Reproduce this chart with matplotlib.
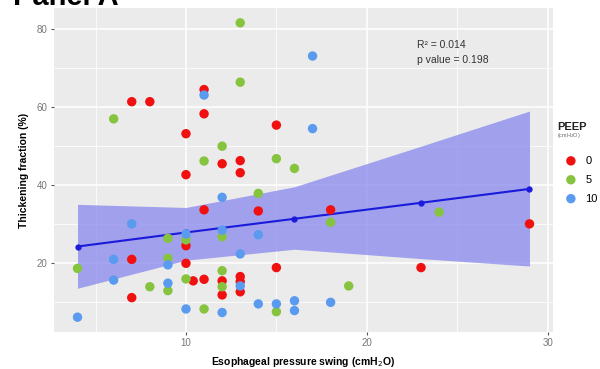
import matplotlib.pyplot as plt
from matplotlib.ticker import MultipleLocator

plt.rcParams['font.family'] = ['Liberation Sans', 'DejaVu Sans']

# PEEP 0 cmH2O
red_x = [7, 8, 11, 11, 15, 10, 12, 13, 13, 10, 11, 14, 18, 10, 10, 7, 7,
         10.4, 11, 12, 12, 13, 13, 13, 15, 23, 29]
red_y = [61.4, 61.4, 64.5, 58.3, 55.4, 53.2, 45.5, 46.3, 43.2, 42.7, 33.7, 33.4, 33.7,
         24.5, 20.0, 21.0, 11.2, 15.5, 15.9, 15.5, 11.9, 16.6, 15.3, 12.7, 18.9, 18.9, 30.1]

# PEEP 5 cmH2O
green_x = [13, 13, 6, 12, 11, 15, 16, 14, 18, 24, 9, 10, 12, 4, 9, 10, 8, 9,
           12, 12, 11, 15, 19]
green_y = [81.6, 66.4, 57.0, 50.0, 46.2, 46.8, 44.3, 37.9, 30.5, 33.1, 26.4, 26.0, 26.8,
           18.7, 21.3, 16.0, 14.0, 13.0, 18.1, 14.0, 8.3, 7.6, 14.2]

# PEEP 10 cmH2O
blue_x = [11, 17, 17, 12, 7, 12, 14, 10, 13, 6, 9, 6, 9, 13, 4, 10, 12, 14,
          15, 16, 16, 18]
blue_y = [63.1, 73.1, 54.5, 36.9, 30.1, 28.5, 27.3, 27.5, 22.4, 21.0, 19.6, 15.7, 14.9,
          14.2, 6.2, 8.3, 7.4, 9.6, 9.6, 10.4, 7.9, 10.0]

# regression line and confidence band
fit_x = [4, 10, 16, 23, 29]
fit_y = [24.3, 27.9, 31.4, 35.5, 39.05]
ci_low = [13.6, 20.8, 23.6, 21.2, 19.3]
ci_high = [35.1, 34.3, 39.6, 50.0, 59.0]

fig = plt.figure(figsize=(6, 3.69), dpi=100)
ax = fig.add_axes([54 / 600, 1 - 332 / 369, 499 / 600, 324 / 369])
ax.set_facecolor('#EBEBEB')

ax.set_xlim(2.7, 30.3)
ax.set_ylim(2.4, 85.4)
ax.xaxis.set_major_locator(MultipleLocator(10))
ax.xaxis.set_minor_locator(MultipleLocator(5))
ax.yaxis.set_major_locator(MultipleLocator(20))
ax.yaxis.set_minor_locator(MultipleLocator(10))
ax.grid(which='major', color='white', lw=1.1)
ax.grid(which='minor', color='white', lw=0.55)
ax.set_axisbelow(True)
for s in ax.spines.values():
    s.set_visible(False)
ax.tick_params(which='major', length=2.5, color='#555555', labelsize=7, labelcolor='#777777', pad=2)
ax.tick_params(which='minor', length=0)

ax.fill_between(fit_x, ci_low, ci_high, color='#8080ee', alpha=0.7, lw=0, zorder=2)
ax.plot(fit_x, fit_y, color='#1a1adb', lw=1.5, marker='o', ms=3.5, zorder=3)

ax.scatter(red_x, red_y, s=46, color='#f01010', edgecolors='none', zorder=4, label='0')
ax.scatter(green_x, green_y, s=46, color='#86c440', edgecolors='none', zorder=4, label='5')
ax.scatter(blue_x, blue_y, s=46, color='#5a9bef', edgecolors='none', zorder=4, label='10')

ax.text(22.76, 76.0, 'R\u00b2 = 0.014', fontsize=7.5, color='#333333', va='center')
ax.text(22.76, 72.0, 'p value = 0.198', fontsize=7.5, color='#333333', va='center')

ax.set_xlabel('Esophageal pressure swing (cmH$_2$O)', fontsize=7.5, fontweight='bold', labelpad=5)
ax.set_ylabel('Thickening fraction (%)', fontsize=7.5, fontweight='bold', labelpad=6)

fig.text(557 / 600, 1 - 127 / 369, 'PEEP', fontsize=8, fontweight='bold', color='#222222', va='center')
fig.text(557 / 600, 1 - 136 / 369, '(cmH$_2$O)', fontsize=4, color='#666666', va='center')
ax.legend(loc='upper left', bbox_to_anchor=(552 / 600, 1 - 148 / 369),
          bbox_transform=fig.transFigure, frameon=False, fontsize=8,
          handletextpad=0.3, labelspacing=0.8, markerscale=1.0, borderpad=0.2)

fig.text(13 / 600, 1 - 5 / 369, 'Panel A', fontsize=21, fontweight='bold', va='baseline')

fig.savefig('out.png', dpi=100)
